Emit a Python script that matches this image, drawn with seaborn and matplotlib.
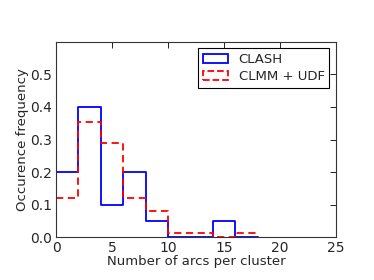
import numpy as np
import pandas as pd
import matplotlib
matplotlib.use("Agg")
import matplotlib.pyplot as plt
import seaborn as sns
from matplotlib.patches import Patch

# bins of width 2 arcs, fraction of clusters per bin
bin_edges = [0, 2, 4, 6, 8, 10, 12, 14, 16, 18]
clash_freq = [0.20, 0.40, 0.10, 0.20, 0.05, 0.0, 0.0, 0.05, 0.0]
clmm_freq = [0.12, 0.355, 0.29, 0.12, 0.08, 0.013, 0.013, 0.0, 0.013]

centers = [(a + b) / 2 for a, b in zip(bin_edges[:-1], bin_edges[1:])]
df = pd.DataFrame({"arcs": centers, "clash": clash_freq, "clmm": clmm_freq})

sns.set_style("white")
plt.rcParams["font.family"] = ["DejaVu Sans"]
plt.rcParams["font.size"] = 9.5

fig = plt.figure(figsize=(3.74, 2.80), dpi=100)
ax = fig.add_axes([0.150, 0.1525, 0.748, 0.6985])

sns.histplot(data=df, x="arcs", weights="clash", bins=bin_edges, element="step",
             fill=False, color="#0000ff", linewidth=1.3, ax=ax)
sns.histplot(data=df, x="arcs", weights="clmm", bins=bin_edges, element="step",
             fill=False, color="#ff0000", linewidth=1.3, linestyle=(0, (4, 2.5)), ax=ax)

ax.set_xlim(0, 25)
ax.set_ylim(0, 0.6)
ax.set_xticks([0, 5, 10, 15, 20, 25])
ax.set_yticks([0.0, 0.1, 0.2, 0.3, 0.4, 0.5])
ax.set_yticklabels(["0.0", "0.1", "0.2", "0.3", "0.4", "0.5"])
ax.tick_params(axis="both", which="both", direction="in", top=True, right=True,
               length=4, width=0.6, color="black", labelsize=10, pad=3)
for s in ax.spines.values():
    s.set_visible(True)
    s.set_color("#333333")
    s.set_linewidth(0.8)

ax.set_xlabel("Number of arcs per cluster", fontsize=9.5, labelpad=0)
ax.set_ylabel("Occurence frequency", fontsize=9.5, labelpad=1)

handles = [Patch(facecolor="none", edgecolor="#0000ff", linewidth=1.3, label="CLASH"),
           Patch(facecolor="none", edgecolor="#ff0000", linewidth=1.3, linestyle="--",
                 label="CLMM + UDF")]
leg = ax.legend(handles=handles, loc="upper right", fontsize=9.5, fancybox=False,
                framealpha=1, borderaxespad=0.5, handlelength=1.9, labelspacing=0.3,
                borderpad=0.35, handletextpad=0.8)
leg.get_frame().set_edgecolor("black")
leg.get_frame().set_linewidth(0.8)

fig.savefig("out.png", dpi=100)
